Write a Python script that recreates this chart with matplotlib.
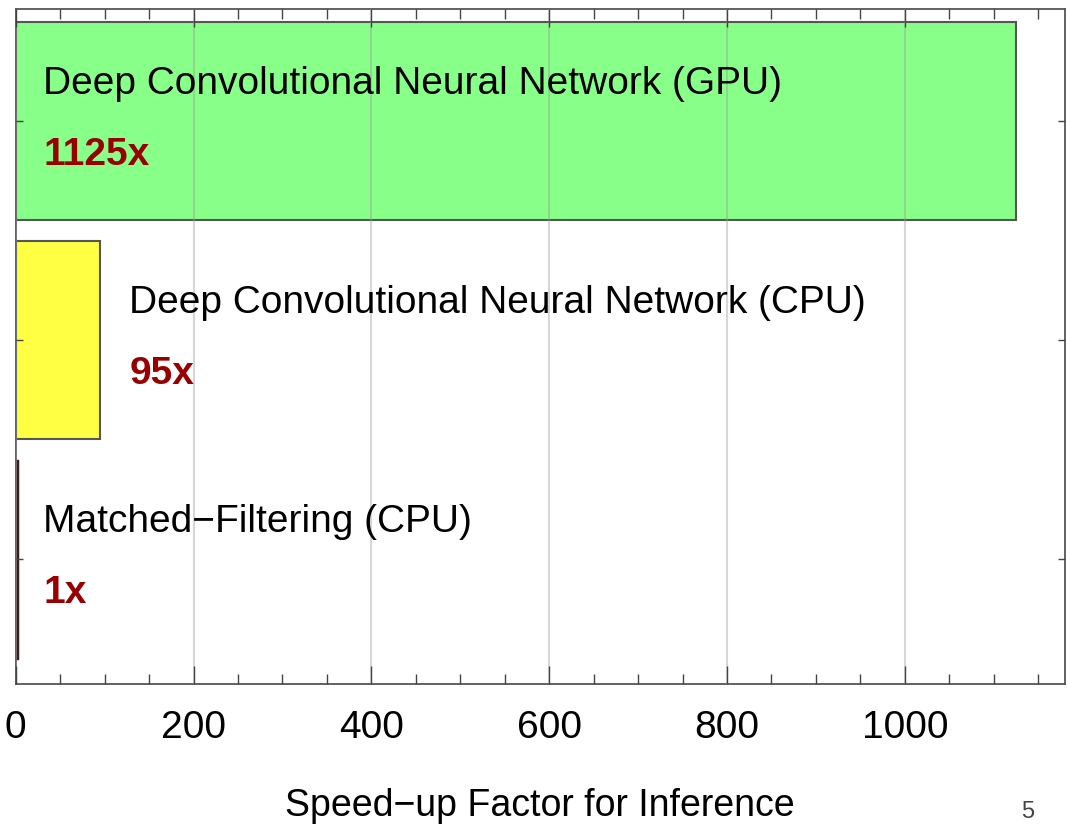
import matplotlib
matplotlib.use('Agg')
import matplotlib.pyplot as plt
from matplotlib.ticker import MultipleLocator

plt.rcParams['font.family'] = ['Liberation Sans', 'DejaVu Sans']

# bottom to top
METHODS = ["Matched\u2212Filtering (CPU)",
           "Deep Convolutional Neural Network (CPU)",
           "Deep Convolutional Neural Network (GPU)"]
SPEEDUPS = [1, 95, 1125]
VALUE_LABELS = ["1x", "95x", "1125x"]
BAR_COLORS = ["#3a1e1e", "#ffff44", "#88ff88"]
EDGE_COLORS = ["#3a1e1e", "#555555", "#555555"]
X_LABEL = "Speed\u2212up Factor for Inference"
PAGE_NUMBER = "5"


def main():
    fig = plt.figure(figsize=(10.67, 8.27), dpi=100)
    ax = fig.add_axes([0.0147, 0.173, 0.9833, 0.816])

    ypos = list(range(len(SPEEDUPS)))
    bars = ax.barh(ypos, SPEEDUPS, height=0.9, color=BAR_COLORS,
                   edgecolor=EDGE_COLORS, linewidth=1.5, zorder=1)
    bars[0].set_linewidth(2.5)

    # text sits to the right of short bars, inside long ones
    for y, val, name, lab in zip(ypos, SPEEDUPS, METHODS, VALUE_LABELS):
        x0 = 31 if val < 50 or val > 500 else val + 33
        ax.text(x0, y + 0.17, name, fontsize=28, ha='left', va='center',
                color='black', zorder=4)
        ax.text(x0, y - 0.155, lab, fontsize=28, fontweight='bold',
                ha='left', va='center', color='#990000', zorder=4)

    ax.set_xlim(0, 1180)
    ax.set_ylim(-0.57, 2.511)

    ax.xaxis.set_major_locator(MultipleLocator(200))
    ax.xaxis.set_minor_locator(MultipleLocator(50))
    ax.set_yticks(ypos)
    ax.set_yticklabels([])

    ax.set_axisbelow(False)
    ax.grid(axis='x', which='major', color='#999999', alpha=0.4,
            linewidth=1.5)

    ax.tick_params(axis='x', which='major', direction='in', length=13,
                   width=1, color='#444444', top=True, bottom=True,
                   labelsize=28, pad=19)
    ax.tick_params(axis='x', which='minor', direction='in', length=7,
                   width=1, color='#444444', top=True, bottom=True)
    ax.tick_params(axis='y', which='major', direction='in', length=5,
                   width=1, color='#444444', left=True, right=True)

    for sp in ax.spines.values():
        sp.set_color('#555555')
        sp.set_linewidth(1.3)

    ax.set_xlabel(X_LABEL, fontsize=27, labelpad=30)

    fig.text(0.963, 0.005, PAGE_NUMBER, fontsize=17, color='#444444',
             ha='center', va='bottom')

    fig.savefig("out.png", dpi=100)
    plt.close(fig)


if __name__ == "__main__":
    main()
